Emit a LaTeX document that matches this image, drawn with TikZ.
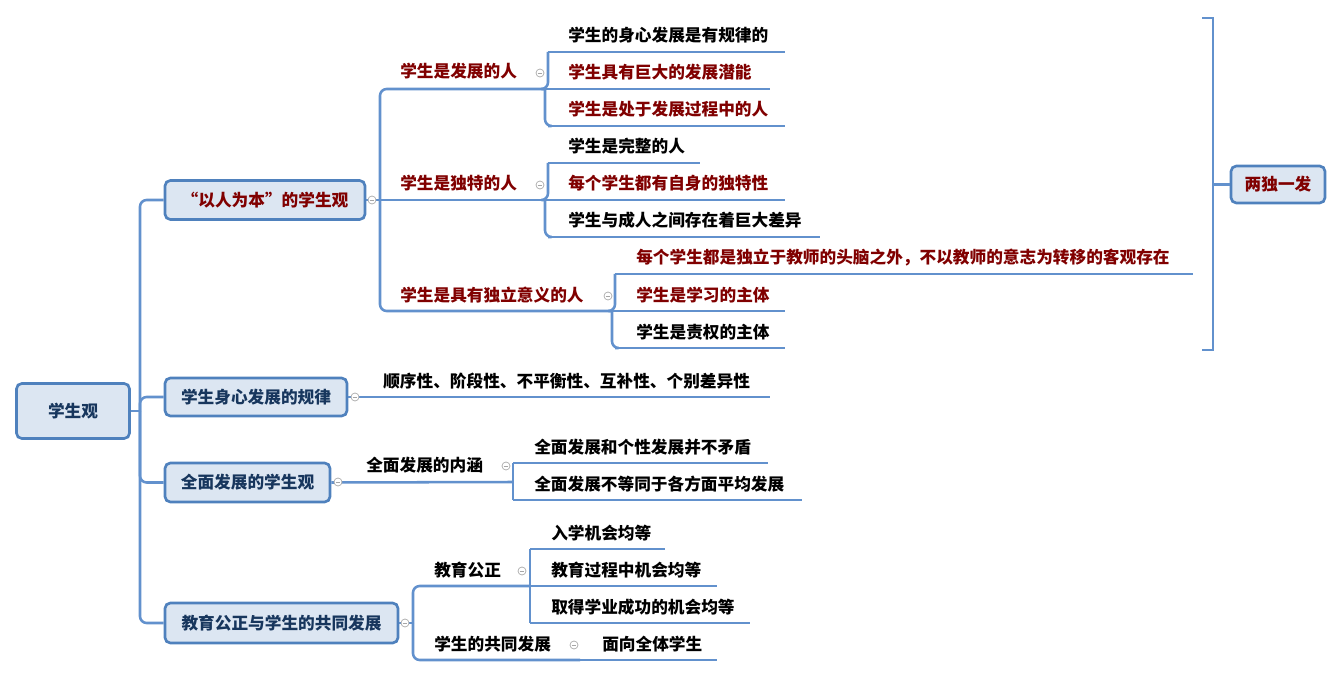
\documentclass[tikz,border=0pt]{standalone}
\usepackage{fontspec}
\setmainfont{Noto Sans CJK SC}
\usetikzlibrary{positioning}
\definecolor{linkblue}{RGB}{98,145,205}
\definecolor{boxfill}{RGB}{220,230,242}
\definecolor{boxline}{RGB}{79,129,189}
\definecolor{navy}{RGB}{23,54,93}
\definecolor{darkred}{RGB}{128,0,0}
\tikzset{
  topic/.style={draw=boxline, line width=2pt, fill=boxfill, rounded corners=4pt, font=\fontsize{12.5}{14}\selectfont\bfseries, text=navy, inner sep=0pt},
  leaf/.style={anchor=base west, font=\fontsize{12.5}{14}\selectfont\bfseries, inner sep=0pt},
  red/.style={text=darkred},
  link/.style={linkblue, line width=1.9pt, rounded corners=5pt},
  fold/.style={circle, draw=gray!70, line width=0.5pt, fill=white, minimum size=6pt, inner sep=0pt,
    path picture={\draw[gray!70, line width=0.5pt] ([xshift=-1.8pt]path picture bounding box.center) -- ([xshift=1.8pt]path picture bounding box.center);}}
}
\begin{document}
\begin{tikzpicture}[x=0.75pt, y=-0.75pt]
  \useasboundingbox (0,0) rectangle (1342,677);
  % root and main topics
  \node[topic, minimum width=84.75pt, minimum height=41.25pt] (root) at (73,411) {学生观};
  \node[topic, red, minimum width=150pt, minimum height=29.25pt] (ren) at (265,200) {“以人为本”的学生观};
  \node[topic, minimum width=136.5pt, minimum height=28.5pt] (guilv) at (256,397) {学生身心发展的规律};
  \node[topic, minimum width=123.75pt, minimum height=29.25pt] (quan) at (247.5,482.5) {全面发展的学生观};
  \node[topic, minimum width=174.75pt, minimum height=30pt] (gong) at (281.5,623) {教育公正与学生的共同发展};
  \coordinate (t0) at (140,411);
  \draw[link] (root.east) -- (t0);
  \draw[link] (t0) |- (ren.west);
  \draw[link] (t0) |- (guilv.west);
  \draw[link] (t0) |- (quan.west);
  \draw[link] (t0) |- (gong.west);

  % 以人为本
  \coordinate (v1) at (380,200);
  \draw[link] (ren.east) -- (v1);
  \draw[link] (v1) |- (545,89) coordinate (fa);
  \draw[link] (v1) -- (545,200) coordinate (du);
  \draw[link] (v1) |- (612,311) coordinate (yi);
  \node[leaf, red] (fa-t) at (400,78) {学生是发展的人};
  \node[leaf, red] (du-t) at (400,190) {学生是独特的人};
  \node[leaf, red] (yi-t) at (400,301) {学生是具有独立意义的人};
  \node[fold] at (372,200) {};
  \node[fold] at (540,73) {};
  \node[fold] at (540,185) {};
  \node[fold] at (608,296) {};

  \draw[link] (548,52) |- (fa);
  \draw[link] (fa) |- (548,126);
  \draw[link] (548,52) -- (785,52);
  \draw[link] (fa) -- (770,89);
  \draw[link] (548,126) -- (785,126);
  \node[leaf] at (568,42) {学生的身心发展是有规律的};
  \node[leaf, red] at (568,79) {学生具有巨大的发展潜能};
  \node[leaf, red] at (568,116) {学生是处于发展过程中的人};

  \draw[link] (548,163) |- (du);
  \draw[link] (du) |- (548,237);
  \draw[link] (548,163) -- (700,163);
  \draw[link] (du) -- (785,200);
  \draw[link] (548,237) -- (820,237);
  \node[leaf] at (568,153) {学生是完整的人};
  \node[leaf, red] at (568,190) {每个学生都有自身的独特性};
  \node[leaf] at (568,227) {学生与成人之间存在着巨大差异};

  \draw[link] (615,274) |- (yi);
  \draw[link] (yi) |- (615,348);
  \draw[link] (615,274) -- (1193,274);
  \draw[link] (yi) -- (785,311);
  \draw[link] (615,348) -- (785,348);
  \node[leaf, red] at (636,264) {每个学生都是独立于教师的头脑之外，不以教师的意志为转移的客观存在};
  \node[leaf, red] at (636,301) {学生是学习的主体};
  \node[leaf] at (636,338) {学生是责权的主体};

  % 两独一发
  \draw[link, rounded corners=0pt] (1202,18) -- (1213,18) -- (1213,350) -- (1202,350);
  \node[topic, red, font=\fontsize{12.5}{14}\selectfont\bfseries\itshape, minimum width=70.5pt, minimum height=27.75pt] (lang) at (1278,184.5) {两独一发};
  \draw[link] (1213,184.5) -- (lang.west);

  % 身心发展的规律
  \draw[link] (guilv.east) -- (770,397);
  \node[fold] at (355,397) {};
  \node[leaf] at (383,387) {顺序性、阶段性、不平衡性、互补性、个别差异性};

  % 全面发展
  \draw[link] (quan.east) -- (513,482) coordinate (nei);
  \draw[link] (513,463) |- (nei);
  \draw[link] (nei) |- (513,500);
  \draw[link] (513,463) -- (768,463);
  \draw[link] (513,500) -- (802,500);
  \node[fold] at (338,482) {};
  \node[fold] at (506,466) {};
  \node[leaf] at (366,471) {全面发展的内涵};
  \node[leaf] at (534,453) {全面发展和个性发展并不矛盾};
  \node[leaf] at (534,490) {全面发展不等同于各方面平均发展};

  % 教育公正
  \coordinate (v4) at (413,623);
  \draw[link] (gong.east) -- (v4);
  \draw[link] (v4) |- (530,586) coordinate (zheng);
  \draw[link] (v4) |- (580,660) coordinate (gongtong);
  \draw[link] (530,549) |- (zheng);
  \draw[link] (zheng) |- (530,623);
  \draw[link] (530,549) -- (665,549);
  \draw[link] (zheng) -- (717,586);
  \draw[link] (530,623) -- (750,623);
  \draw[link] (gongtong) -- (717,660);
  \node[fold] at (405,623) {};
  \node[fold] at (522,571) {};
  \node[fold] at (574,645) {};
  \node[leaf] at (434,576) {教育公正};
  \node[leaf] at (434,650) {学生的共同发展};
  \node[leaf] at (551,539) {入学机会均等};
  \node[leaf] at (551,576) {教育过程中机会均等};
  \node[leaf] at (551,613) {取得学业成功的机会均等};
  \node[leaf] at (602,650) {面向全体学生};
\end{tikzpicture}
\end{document}
